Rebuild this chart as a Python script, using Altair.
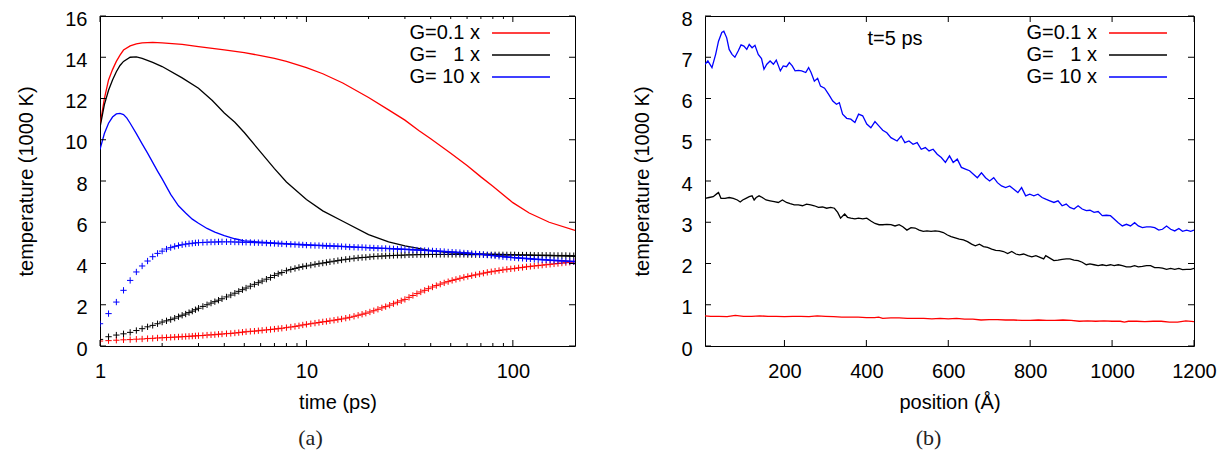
import altair as alt
import pandas as pd

# ---------------- data ----------------
NAMES = ["G=0.1 x", "G=\u00a0\u00a0\u00a01 x", "G=\u00a010 x"]
COLORS = ["#ff0000", "#000000", "#0000ff"]

# panel (a): electron temperature (lines)
red_line_t = [1.0, 1.05, 1.1, 1.15, 1.2, 1.25, 1.3, 1.4, 1.5, 1.6, 1.8, 2.0, 2.5, 3, 4, 5, 6, 7, 8, 10,
              12, 15, 20, 25, 30, 35, 40, 50, 60, 70, 80, 100, 120, 150, 200]
red_line_T = [10.7, 12.0, 12.9, 13.4, 13.8, 14.1, 14.35, 14.55, 14.65, 14.7, 14.72, 14.7, 14.62, 14.52, 14.36,
              14.22, 14.08, 13.95, 13.8, 13.5, 13.2, 12.75, 12.05, 11.45, 10.95, 10.45, 10.05, 9.35, 8.75, 8.2,
              7.75, 6.95, 6.45, 6.0, 5.6]
black_line_t = [1.0, 1.05, 1.1, 1.15, 1.2, 1.25, 1.3, 1.4, 1.5, 1.6, 1.8, 2.0, 2.5, 3, 3.5, 4, 4.5, 5, 6, 7,
                8, 10, 12, 15, 20, 25, 30, 40, 50, 70, 100, 150, 200]
black_line_T = [10.6, 11.7, 12.4, 12.9, 13.3, 13.6, 13.8, 14.0, 14.02, 13.95, 13.75, 13.55, 13.0, 12.5, 11.9,
                11.3, 10.85, 10.35, 9.4, 8.6, 7.95, 7.1, 6.55, 6.05, 5.4, 5.05, 4.85, 4.62, 4.52, 4.46, 4.42,
                4.38, 4.35]
blue_line_t = [1.0, 1.05, 1.1, 1.15, 1.2, 1.25, 1.3, 1.35, 1.4, 1.5, 1.6, 1.7, 1.8, 1.9, 2.0, 2.2, 2.4, 2.6,
               2.8, 3.0, 3.3, 3.6, 4.0, 4.5, 5, 6, 7, 8, 10, 15, 20, 30, 40, 60, 80, 100, 150, 200]
blue_line_T = [9.53, 10.3, 10.8, 11.1, 11.25, 11.28, 11.22, 11.05, 10.8, 10.3, 9.8, 9.35, 8.9, 8.48, 8.1, 7.35,
               6.8, 6.45, 6.15, 5.95, 5.7, 5.52, 5.35, 5.2, 5.1, 5.04, 5.0, 4.96, 4.91, 4.83, 4.77, 4.69, 4.63,
               4.51, 4.39, 4.29, 4.17, 4.1]

# panel (a): lattice temperature (+ markers)
pts_t = [1.0, 1.1, 1.2, 1.3, 1.4, 1.5, 1.6, 1.7, 1.8, 1.9, 2.0, 2.1, 2.2, 2.3, 2.4, 2.5, 2.6, 2.7, 2.8, 2.9, 3.0,
         3.15, 3.3, 3.45, 3.6, 3.75, 3.9,
         4.1, 4.3, 4.5, 4.7, 4.9, 5.1,
         5.35, 5.6, 5.85, 6.1, 6.4, 6.7, 7.0, 7.3, 7.6,
         8.0, 8.4, 8.8, 9.2, 9.6, 10,
         10.5, 11, 11.5, 12, 12.5, 13, 13.6, 14.2, 14.8,
         15.5, 16.2, 17, 17.8, 18.6, 19.4, 20.3,
         21.2, 22.2, 23.2, 24.2, 25.3, 26.4, 27.6, 28.8, 30,
         31.4, 32.8, 34.3, 35.8, 37.4, 39, 40.8,
         42.6, 44.5, 46.5, 48.6, 50.8, 53, 55.4, 57.9, 60.5,
         63.2, 66, 69, 72, 75.2, 78.6, 82, 85.7, 89.5, 93.5, 97.7,
         102, 106.6, 111.4, 116.4, 121.6, 127, 132.7, 138.7, 145, 151.5, 158.3, 165.4, 172.8, 180.6, 188.7, 197.2]
red_pts_T = [0.24, 0.26, 0.28, 0.30, 0.31, 0.33, 0.34, 0.36, 0.37, 0.39, 0.40, 0.41, 0.42, 0.43, 0.44, 0.45, 0.46,
             0.47, 0.48, 0.49, 0.50,
             0.51, 0.53, 0.54, 0.55, 0.57, 0.58,
             0.60, 0.61, 0.63, 0.65, 0.67, 0.69,
             0.71, 0.72, 0.74, 0.76, 0.78, 0.80, 0.82, 0.84, 0.86,
             0.89, 0.92, 0.95, 0.98, 1.02, 1.05,
             1.08, 1.11, 1.14, 1.17, 1.19, 1.22, 1.25, 1.28, 1.31,
             1.35, 1.39, 1.44, 1.49, 1.54, 1.59, 1.65,
             1.71, 1.78, 1.85, 1.91, 1.98, 2.05, 2.12, 2.19, 2.26,
             2.36, 2.45, 2.54, 2.62, 2.70, 2.78, 2.86,
             2.93, 3.00, 3.06, 3.12, 3.18, 3.23, 3.28, 3.33, 3.37,
             3.41, 3.45, 3.49, 3.53, 3.57, 3.60, 3.63, 3.66, 3.69, 3.72, 3.74,
             3.76, 3.79, 3.81, 3.84, 3.86, 3.88, 3.90, 3.92, 3.94, 3.96, 3.98, 4.00, 4.02, 4.04, 4.06, 4.08]
black_pts_T = [0.32, 0.45, 0.53, 0.59, 0.66, 0.75, 0.84, 0.93, 1.00, 1.08, 1.16, 1.22, 1.28, 1.35, 1.42, 1.49,
               1.55, 1.62, 1.69, 1.76, 1.83,
               1.92, 2.00, 2.08, 2.15, 2.22, 2.29,
               2.38, 2.47, 2.56, 2.65, 2.73, 2.81,
               2.90, 2.99, 3.07, 3.15, 3.24, 3.32, 3.42, 3.50, 3.56,
               3.65, 3.71, 3.76, 3.81, 3.85, 3.88,
               3.92, 3.96, 3.99, 4.02, 4.05, 4.08, 4.11, 4.14, 4.17,
               4.20, 4.22, 4.25, 4.27, 4.29, 4.30, 4.32,
               4.34, 4.35, 4.36, 4.37, 4.38, 4.39, 4.40, 4.40, 4.41,
               4.42, 4.42, 4.43, 4.43, 4.43, 4.44, 4.44,
               4.44, 4.44, 4.44, 4.44, 4.44, 4.44, 4.44, 4.44, 4.43,
               4.43, 4.43, 4.43, 4.43, 4.42, 4.42, 4.42, 4.42, 4.42, 4.42, 4.42,
               4.42, 4.41, 4.41, 4.41, 4.41, 4.40, 4.40, 4.40, 4.40, 4.40, 4.39, 4.39, 4.39, 4.39, 4.38, 4.38]
blue_pts_T = [1.08, 1.57, 2.13, 2.70, 3.18, 3.59, 3.88, 4.12, 4.33, 4.49, 4.60, 4.70, 4.77, 4.83, 4.87, 4.91,
              4.94, 4.96, 4.98, 5.00, 5.01,
              5.02, 5.03, 5.04, 5.04, 5.05, 5.05,
              5.05, 5.05, 5.04, 5.04, 5.03, 5.03,
              5.02, 5.01, 5.01, 5.00, 4.99, 4.98, 4.97, 4.96, 4.95,
              4.94, 4.93, 4.92, 4.91, 4.90, 4.89,
              4.88, 4.87, 4.87, 4.86, 4.85, 4.85, 4.84, 4.83, 4.82,
              4.81, 4.80, 4.79, 4.78, 4.78, 4.77, 4.76,
              4.75, 4.74, 4.73, 4.73, 4.72, 4.71, 4.70, 4.69, 4.68,
              4.67, 4.66, 4.65, 4.64, 4.63, 4.62, 4.61,
              4.60, 4.59, 4.58, 4.56, 4.55, 4.54, 4.53, 4.51, 4.50,
              4.48, 4.47, 4.45, 4.43, 4.41, 4.39, 4.37, 4.35, 4.33, 4.31, 4.29,
              4.28, 4.26, 4.25, 4.23, 4.22, 4.20, 4.19, 4.18, 4.17, 4.15, 4.14, 4.13, 4.12, 4.11, 4.10, 4.09]

# panel (b): temperature profile at t = 5 ps
red_pos = [6, 20, 40, 60, 80, 100, 120, 140, 160, 180, 200, 220, 240, 260, 280, 300, 320, 340, 360, 380, 400,
           420, 430, 440, 460, 480, 500, 520, 540, 560, 580, 600, 620, 640, 660, 680, 700, 720, 740, 760, 780,
           800, 820, 840, 860, 880, 900, 920, 940, 960, 980, 1000, 1020, 1030, 1040, 1060, 1080, 1100, 1120,
           1140, 1160, 1180, 1200]
red_prof = [0.73, 0.72, 0.72, 0.71, 0.74, 0.72, 0.72, 0.73, 0.72, 0.72, 0.71, 0.72, 0.72, 0.71, 0.73, 0.72, 0.71,
            0.7, 0.7, 0.7, 0.69, 0.69, 0.7, 0.67, 0.68, 0.68, 0.67, 0.67, 0.67, 0.66, 0.67, 0.66, 0.67, 0.65,
            0.65, 0.63, 0.64, 0.64, 0.63, 0.63, 0.62, 0.62, 0.63, 0.62, 0.62, 0.63, 0.62, 0.6, 0.61, 0.6, 0.61,
            0.6, 0.6, 0.58, 0.6, 0.6, 0.59, 0.6, 0.6, 0.58, 0.58, 0.61, 0.59]
black_pos = [6, 16, 26, 36, 39, 45, 55, 65, 75, 85, 92, 98, 106, 114, 121, 126, 131, 138, 146, 155, 165, 175,
             185, 195, 205, 214, 224, 234, 244, 254, 264, 273, 283, 293, 303, 313, 322, 330, 337, 347, 354, 362,
             372, 381, 391, 401, 411, 421, 431, 440, 450, 460, 470, 480, 489, 499, 509, 519, 529, 539, 548, 558,
             568, 578, 588, 598, 607, 617, 627, 637, 647, 657, 666, 676, 686, 696, 706, 716, 725, 735, 745, 755,
             765, 774, 784, 794, 804, 814, 824, 833, 838, 848, 858, 868, 878, 888, 897, 907, 917, 927, 937, 946,
             956, 966, 976, 986, 996, 1005, 1015, 1025, 1035, 1045, 1055, 1064, 1074, 1084, 1094, 1104, 1114,
             1123, 1133, 1143, 1153, 1163, 1172, 1182, 1192, 1200]
black_prof = [3.58, 3.6, 3.62, 3.7, 3.72, 3.58, 3.58, 3.6, 3.58, 3.54, 3.49, 3.54, 3.58, 3.62, 3.64, 3.54, 3.6,
              3.64, 3.6, 3.54, 3.52, 3.5, 3.48, 3.54, 3.48, 3.45, 3.42, 3.42, 3.4, 3.44, 3.42, 3.4, 3.36, 3.37,
              3.34, 3.36, 3.34, 3.24, 3.1, 3.2, 3.12, 3.1, 3.08, 3.1, 3.08, 3.1, 3.03, 2.97, 2.94, 2.94, 2.95,
              2.94, 2.91, 2.94, 2.89, 2.81, 2.87, 2.86, 2.81, 2.78, 2.79, 2.78, 2.79, 2.78, 2.75, 2.69, 2.65,
              2.62, 2.59, 2.57, 2.53, 2.47, 2.43, 2.47, 2.41, 2.39, 2.35, 2.32, 2.31, 2.29, 2.24, 2.29, 2.23,
              2.21, 2.23, 2.19, 2.16, 2.19, 2.15, 2.11, 2.19, 2.13, 2.07, 2.08, 2.1, 2.11, 2.11, 2.08, 2.07, 2.03,
              1.97, 1.99, 1.97, 1.95, 1.97, 1.95, 1.97, 1.95, 1.97, 1.95, 1.92, 1.92, 1.95, 1.92, 1.93, 1.95,
              1.95, 1.9, 1.9, 1.89, 1.86, 1.88, 1.86, 1.88, 1.85, 1.86, 1.86, 1.88]
blue_pos = [6, 13, 23, 32, 39, 47, 52, 59, 65, 72, 79, 87, 94, 101, 108, 114, 121, 128, 136, 144, 150, 157, 165,
            173, 180, 190, 197, 205, 212, 219, 226, 234, 242, 252, 259, 265, 273, 281, 288, 298, 308, 318, 327,
            334, 342, 352, 362, 372, 381, 391, 401, 411, 421, 431, 440, 450, 460, 475, 485, 494, 504, 514, 524,
            534, 544, 553, 563, 573, 583, 593, 603, 612, 622, 632, 642, 652, 662, 671, 681, 691, 701, 711, 720,
            730, 740, 750, 760, 770, 779, 789, 799, 809, 819, 829, 838, 848, 858, 868, 878, 888, 897, 907, 917,
            927, 937, 946, 956, 966, 976, 986, 996, 1005, 1015, 1025, 1035, 1045, 1055, 1064, 1074, 1084, 1094,
            1104, 1114, 1123, 1133, 1143, 1153, 1163, 1172, 1182, 1192, 1200]
blue_prof = [6.83, 6.91, 6.75, 7.07, 7.39, 7.6, 7.63, 7.47, 7.19, 7.07, 7.0, 7.15, 7.3, 7.27, 7.19, 7.31, 7.23,
             7.29, 7.07, 6.97, 6.71, 6.83, 6.91, 6.83, 6.93, 6.67, 6.79, 6.77, 6.87, 6.79, 6.67, 6.68, 6.67,
             6.63, 6.75, 6.63, 6.42, 6.49, 6.3, 6.25, 6.1, 5.94, 5.86, 5.9, 5.62, 5.52, 5.5, 5.42, 5.62, 5.58,
             5.38, 5.29, 5.44, 5.33, 5.23, 5.17, 5.05, 4.97, 5.09, 4.93, 4.97, 4.89, 4.93, 4.77, 4.81, 4.73,
             4.77, 4.65, 4.57, 4.45, 4.61, 4.45, 4.53, 4.33, 4.29, 4.25, 4.16, 4.08, 4.2, 4.08, 4.0, 4.08, 3.96,
             3.88, 3.84, 3.88, 3.8, 3.72, 3.84, 3.64, 3.68, 3.64, 3.68, 3.6, 3.56, 3.52, 3.48, 3.52, 3.4, 3.44,
             3.36, 3.32, 3.4, 3.32, 3.28, 3.29, 3.24, 3.26, 3.16, 3.17, 3.16, 3.08, 2.99, 2.91, 2.95, 2.91, 2.99,
             2.91, 2.87, 2.89, 2.89, 2.87, 2.81, 2.83, 2.91, 2.83, 2.79, 2.85, 2.78, 2.81, 2.78, 2.81]

# tick values / labels
a_x_major = [1, 10, 100]
a_x_minor = [2, 3, 4, 5, 6, 7, 8, 9, 20, 30, 40, 50, 60, 70, 80, 90]
a_y_major = [0, 2, 4, 6, 8, 10, 12, 14, 16]
b_x_major = [200, 400, 600, 800, 1000, 1200]
b_y_major = [0, 1, 2, 3, 4, 5, 6, 7, 8]
annotation = ["t=5 ps"]
annotation_pos = [470]
annotation_T = [7.45]

# ---------------- tables ----------------
def long(parts, xname):
    rows = []
    for name, xs, ys in parts:
        for xv, yv in zip(xs, ys):
            rows.append({xname: xv, "T": yv, "G": name})
    return pd.DataFrame(rows)

lines_a = long([(NAMES[0], red_line_t, red_line_T), (NAMES[1], black_line_t, black_line_T),
                (NAMES[2], blue_line_t, blue_line_T)], "t")
pts_a = long([(NAMES[0], pts_t, red_pts_T), (NAMES[1], pts_t, black_pts_T),
              (NAMES[2], pts_t, blue_pts_T)], "t")
lines_b = long([(NAMES[0], red_pos, red_prof), (NAMES[1], black_pos, black_prof),
                (NAMES[2], blue_pos, blue_prof)], "pos")

FONT = "Liberation Sans"
FS = 20
color_scale = alt.Scale(domain=NAMES, range=COLORS)


def legend(x):
    return alt.Legend(title=None, orient="none", legendX=x, legendY=7,
                      symbolType="M-4,0H4", symbolSize=210, symbolStrokeWidth=1.3,
                      labelAlign="right", labelOffset={"expr": "-51"}, labelFont=FONT, labelFontSize=FS,
                      labelColor="black", rowPadding=2, labelLimit=300)


def main_axis(orient, values, title, pad, tpad, fmt="d", loff=0):
    return alt.Axis(orient=orient, values=values, ticks=False, tickSize=0, domain=False, grid=False,
                    labelPadding=pad, title=title, titlePadding=tpad, format=fmt, labelOffset=loff,
                    labelFlush=False, labelOverlap=False)


def tick_layers(xs, ys, xax, yax, xmaj, ymaj, W, H, xmin=None):
    """Inward (gnuplot-style) ticks on all four sides, positioned through the scales."""
    out = []
    specs = [(xmaj, 6)] + ([(xmin, 3)] if xmin else [])
    for vals, L in specs:
        df = pd.DataFrame({"v": vals})
        out.append(alt.Chart(df).mark_rule(color="black", strokeWidth=1).encode(
            x=alt.X("v:Q", scale=xs, axis=xax), y=alt.value(H), y2=alt.value(H - L)))
        out.append(alt.Chart(df).mark_rule(color="black", strokeWidth=1).encode(
            x=alt.X("v:Q", scale=xs, axis=xax), y=alt.value(0), y2=alt.value(L)))
    df = pd.DataFrame({"v": ymaj})
    out.append(alt.Chart(df).mark_rule(color="black", strokeWidth=1).encode(
        y=alt.Y("v:Q", scale=ys, axis=yax), x=alt.value(0), x2=alt.value(6)))
    out.append(alt.Chart(df).mark_rule(color="black", strokeWidth=1).encode(
        y=alt.Y("v:Q", scale=ys, axis=yax), x=alt.value(W), x2=alt.value(W - 6)))
    return out


WA, WB, H = 475, 489, 330
CAPTION = dict(orient="bottom", anchor="middle", offset=16, font="Liberation Serif", fontSize=22,
               fontWeight="normal", color="#222")

# ---------------- panel (a) ----------------
xa = alt.Scale(type="log", domain=[1, 200])
ya = alt.Scale(domain=[0, 16])
xax_a = main_axis("bottom", a_x_major, "time (ps)", 15, 11)
yax_a = main_axis("left", a_y_major, "temperature (1000 K)", 13, 28, loff=3)

lines_layer_a = alt.Chart(lines_a).mark_line(strokeWidth=1.3, clip=True).encode(
    x=alt.X("t:Q", scale=xa, axis=xax_a),
    y=alt.Y("T:Q", scale=ya, axis=yax_a),
    color=alt.Color("G:N", scale=color_scale, legend=legend(411)),
)
pts_layer = alt.Chart(pts_a).mark_point(shape="M-1,0H1M0,-1V1", size=40, filled=False,
                                        strokeWidth=1, opacity=1, clip=True).encode(
    x=alt.X("t:Q", scale=xa, axis=xax_a),
    y=alt.Y("T:Q", scale=ya, axis=yax_a),
    color=alt.Color("G:N", scale=color_scale, legend=legend(411)),
)
panel_a = alt.layer(lines_layer_a, pts_layer,
                    *tick_layers(xa, ya, xax_a, yax_a, a_x_major, a_y_major, WA, H, a_x_minor)).properties(
    width=WA, height=H, title=alt.TitleParams("(a)", dx=-27, **CAPTION))

# ---------------- panel (b) ----------------
xb = alt.Scale(domain=[6, 1200])
yb = alt.Scale(domain=[0, 8])
xax_b = main_axis("bottom", b_x_major, "position (Å)", 15, 11)
yax_b = main_axis("left", b_y_major, "temperature (1000 K)", 13, 28, loff=3)

lines_layer_b = alt.Chart(lines_b).mark_line(strokeWidth=1.3, clip=True).encode(
    x=alt.X("pos:Q", scale=xb, axis=xax_b),
    y=alt.Y("T:Q", scale=yb, axis=yax_b),
    color=alt.Color("G:N", scale=color_scale, legend=legend(423)),
)
ann = alt.Chart(pd.DataFrame({"pos": annotation_pos, "T": annotation_T, "label": annotation})).mark_text(
    font=FONT, fontSize=FS, align="center", baseline="middle", color="black").encode(
    x=alt.X("pos:Q", scale=xb, axis=xax_b), y=alt.Y("T:Q", scale=yb, axis=yax_b), text="label:N")
panel_b = alt.layer(lines_layer_b, ann,
                    *tick_layers(xb, yb, xax_b, yax_b, b_x_major, b_y_major, WB, H)).properties(
    width=WB, height=H, title=alt.TitleParams("(b)", dx=-21, **CAPTION))

chart = alt.hconcat(panel_a, panel_b, spacing=130, bounds="flush").resolve_scale(
    color="independent"
).properties(
    padding={"left": 8, "top": 0, "right": 5, "bottom": 5}
).configure_view(stroke="black", strokeWidth=1).configure_axis(
    labelFont=FONT, labelFontSize=FS, titleFont=FONT, titleFontSize=FS, titleFontWeight="normal",
    labelColor="black", titleColor="black"
)

chart.save("out.html", embed_options={"renderer": "svg", "actions": False})
